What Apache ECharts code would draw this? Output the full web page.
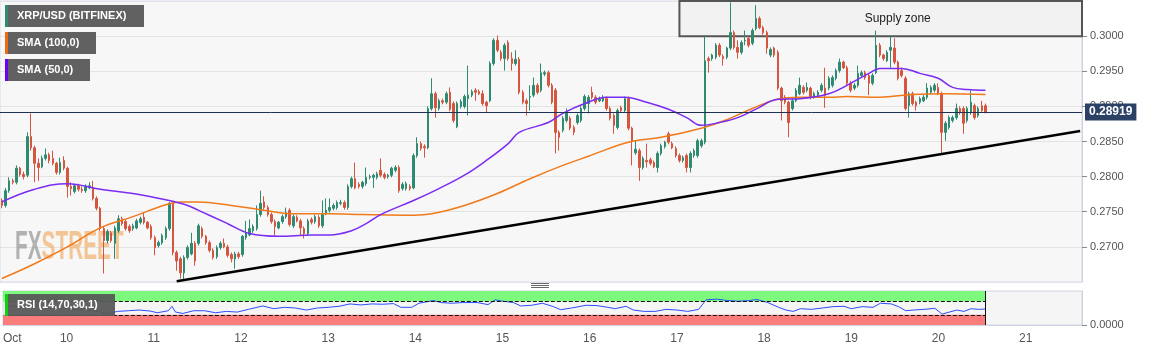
<!DOCTYPE html>
<html>
<head>
<meta charset="utf-8">
<title>XRP/USD</title>
<script src="https://cdn.jsdelivr.net/npm/echarts@6/dist/echarts.min.js"></script>
<style>
  html, body { margin: 0; padding: 0; background: #fff; }
  #chart { width: 1153px; height: 351px; }
</style>
</head>
<body>
<div id="chart"></div>
<script>
// hourly slots, first one is Oct 9 07:00
const startDay = 9;
const startHour = 7;
const slotCount = 297;

// [open, close, low, high]
const candles = [
  [0.2766,0.2759,0.2755,0.2769],[0.2759,0.2780,0.2756,0.2784],[0.2780,0.2794,0.2777,0.2799],[0.2794,0.2792,0.2789,0.2797],
  [0.2792,0.2812,0.2789,0.2816],[0.2812,0.2803,0.2800,0.2814],[0.2803,0.2800,0.2796,0.2807],[0.2802,0.2857,0.2799,0.2863],
  [0.2857,0.2841,0.2837,0.2890],[0.2841,0.2819,0.2792,0.2844],[0.2819,0.2813,0.2794,0.2826],[0.2814,0.2826,0.2812,0.2830],
  [0.2826,0.2831,0.2823,0.2840],[0.2831,0.2823,0.2819,0.2834],[0.2826,0.2819,0.2816,0.2837],[0.2819,0.2806,0.2803,0.2821],
  [0.2806,0.2820,0.2803,0.2827],[0.2823,0.2812,0.2809,0.2829],[0.2812,0.2786,0.2770,0.2814],[0.2786,0.2783,0.2773,0.2792],
  [0.2779,0.2787,0.2776,0.2790],[0.2787,0.2782,0.2779,0.2790],[0.2782,0.2780,0.2777,0.2786],[0.2780,0.2786,0.2777,0.2789],
  [0.2784,0.2787,0.2782,0.2792],[0.2784,0.2769,0.2766,0.2794],[0.2769,0.2755,0.2752,0.2772],[0.2755,0.2726,0.2723,0.2757],
  [0.2726,0.2709,0.2662,0.2729],[0.2709,0.2722,0.2705,0.2725],[0.2720,0.2709,0.2706,0.2723],[0.2705,0.2727,0.2683,0.2730],
  [0.2723,0.2740,0.2720,0.2745],[0.2740,0.2733,0.2730,0.2743],[0.2736,0.2726,0.2723,0.2739],[0.2729,0.2723,0.2720,0.2732],
  [0.2726,0.2730,0.2723,0.2733],[0.2727,0.2737,0.2725,0.2740],[0.2735,0.2740,0.2732,0.2743],[0.2742,0.2735,0.2732,0.2749],
  [0.2735,0.2727,0.2725,0.2737],[0.2729,0.2713,0.2710,0.2732],[0.2713,0.2699,0.2688,0.2716],[0.2702,0.2706,0.2699,0.2709],
  [0.2706,0.2716,0.2703,0.2719],[0.2713,0.2726,0.2710,0.2729],[0.2726,0.2762,0.2723,0.2764],[0.2762,0.2692,0.2688,0.2764],
  [0.2692,0.2680,0.2666,0.2695],[0.2683,0.2663,0.2655,0.2686],[0.2663,0.2685,0.2652,0.2688],[0.2685,0.2699,0.2682,0.2702],
  [0.2690,0.2705,0.2688,0.2720],[0.2705,0.2680,0.2673,0.2708],[0.2705,0.2730,0.2702,0.2733],[0.2726,0.2715,0.2712,0.2729],
  [0.2715,0.2706,0.2703,0.2717],[0.2706,0.2695,0.2692,0.2709],[0.2695,0.2685,0.2682,0.2698],[0.2686,0.2699,0.2683,0.2702],
  [0.2699,0.2705,0.2696,0.2708],[0.2705,0.2700,0.2698,0.2712],[0.2700,0.2688,0.2685,0.2703],[0.2689,0.2683,0.2678,0.2692],
  [0.2683,0.2690,0.2669,0.2693],[0.2690,0.2686,0.2683,0.2693],[0.2689,0.2715,0.2686,0.2717],[0.2713,0.2720,0.2710,0.2737],
  [0.2717,0.2726,0.2715,0.2739],[0.2723,0.2729,0.2720,0.2732],[0.2726,0.2746,0.2723,0.2759],[0.2746,0.2762,0.2743,0.2780],
  [0.2764,0.2756,0.2753,0.2772],[0.2756,0.2746,0.2743,0.2759],[0.2746,0.2736,0.2733,0.2749],[0.2736,0.2729,0.2716,0.2739],
  [0.2727,0.2735,0.2725,0.2737],[0.2736,0.2743,0.2733,0.2746],[0.2743,0.2749,0.2740,0.2756],[0.2752,0.2732,0.2729,0.2755],
  [0.2730,0.2743,0.2727,0.2746],[0.2742,0.2737,0.2735,0.2745],[0.2737,0.2727,0.2716,0.2740],[0.2726,0.2719,0.2712,0.2729],
  [0.2719,0.2737,0.2716,0.2740],[0.2739,0.2735,0.2732,0.2742],[0.2736,0.2743,0.2733,0.2746],[0.2742,0.2730,0.2727,0.2745],
  [0.2730,0.2746,0.2727,0.2766],[0.2747,0.2752,0.2745,0.2769],[0.2752,0.2756,0.2749,0.2769],[0.2755,0.2759,0.2752,0.2762],
  [0.2756,0.2763,0.2753,0.2766],[0.2762,0.2763,0.2759,0.2767],[0.2763,0.2756,0.2753,0.2766],[0.2756,0.2786,0.2753,0.2789],
  [0.2786,0.2797,0.2783,0.2800],[0.2797,0.2784,0.2782,0.2820],[0.2789,0.2786,0.2783,0.2792],[0.2786,0.2792,0.2783,0.2794],
  [0.2790,0.2799,0.2787,0.2813],[0.2799,0.2800,0.2796,0.2803],[0.2799,0.2802,0.2784,0.2804],[0.2799,0.2804,0.2796,0.2807],
  [0.2809,0.2802,0.2799,0.2826],[0.2803,0.2799,0.2796,0.2806],[0.2800,0.2802,0.2797,0.2804],[0.2802,0.2812,0.2799,0.2814],
  [0.2809,0.2813,0.2806,0.2816],[0.2813,0.2780,0.2777,0.2816],[0.2783,0.2789,0.2780,0.2792],[0.2783,0.2790,0.2780,0.2793],
  [0.2786,0.2783,0.2780,0.2789],[0.2784,0.2830,0.2782,0.2833],[0.2830,0.2847,0.2827,0.2856],[0.2847,0.2840,0.2837,0.2850],
  [0.2843,0.2841,0.2827,0.2846],[0.2841,0.2897,0.2839,0.2900],[0.2897,0.2918,0.2894,0.2940],[0.2918,0.2898,0.2884,0.2921],
  [0.2897,0.2908,0.2894,0.2911],[0.2908,0.2906,0.2903,0.2911],[0.2906,0.2918,0.2903,0.2921],[0.2920,0.2896,0.2893,0.2927],
  [0.2904,0.2880,0.2877,0.2907],[0.2871,0.2904,0.2869,0.2907],[0.2900,0.2907,0.2897,0.2910],[0.2900,0.2914,0.2897,0.2917],
  [0.2911,0.2916,0.2887,0.2958],[0.2916,0.2921,0.2913,0.2924],[0.2923,0.2920,0.2908,0.2926],[0.2921,0.2918,0.2916,0.2924],
  [0.2918,0.2904,0.2901,0.2923],[0.2906,0.2901,0.2891,0.2908],[0.2908,0.2961,0.2906,0.2964],[0.2961,0.2994,0.2958,0.2997],
  [0.2994,0.2980,0.2977,0.3001],[0.2977,0.2968,0.2965,0.2980],[0.2968,0.2987,0.2951,0.2990],[0.2991,0.2968,0.2965,0.2994],
  [0.2968,0.2961,0.2951,0.2977],[0.2961,0.2967,0.2958,0.2980],[0.2967,0.2920,0.2917,0.2970],[0.2920,0.2906,0.2903,0.2923],
  [0.2908,0.2904,0.2887,0.2911],[0.2913,0.2914,0.2894,0.2930],[0.2916,0.2930,0.2913,0.2941],[0.2930,0.2920,0.2917,0.2933],
  [0.2923,0.2948,0.2920,0.2961],[0.2946,0.2948,0.2943,0.2951],[0.2948,0.2930,0.2927,0.2951],[0.2930,0.2906,0.2903,0.2933],
  [0.2923,0.2863,0.2833,0.2926],[0.2863,0.2856,0.2837,0.2866],[0.2866,0.2883,0.2863,0.2886],[0.2880,0.2891,0.2877,0.2897],
  [0.2883,0.2869,0.2866,0.2886],[0.2870,0.2863,0.2859,0.2873],[0.2877,0.2887,0.2874,0.2890],[0.2880,0.2897,0.2877,0.2900],
  [0.2897,0.2914,0.2894,0.2917],[0.2904,0.2913,0.2890,0.2916],[0.2920,0.2913,0.2910,0.2928],[0.2913,0.2906,0.2903,0.2916],
  [0.2908,0.2911,0.2906,0.2914],[0.2908,0.2913,0.2906,0.2916],[0.2911,0.2897,0.2894,0.2914],[0.2897,0.2883,0.2880,0.2900],
  [0.2887,0.2873,0.2861,0.2890],[0.2870,0.2894,0.2867,0.2897],[0.2898,0.2894,0.2891,0.2901],[0.2894,0.2911,0.2891,0.2914],
  [0.2911,0.2869,0.2866,0.2914],[0.2869,0.2851,0.2816,0.2871],[0.2834,0.2839,0.2831,0.2851],[0.2837,0.2813,0.2794,0.2840],
  [0.2813,0.2826,0.2810,0.2829],[0.2823,0.2821,0.2813,0.2847],[0.2824,0.2819,0.2816,0.2827],[0.2820,0.2814,0.2812,0.2823],
  [0.2813,0.2833,0.2806,0.2836],[0.2833,0.2844,0.2830,0.2847],[0.2843,0.2849,0.2840,0.2851],[0.2861,0.2849,0.2846,0.2864],
  [0.2847,0.2841,0.2839,0.2850],[0.2840,0.2830,0.2827,0.2843],[0.2830,0.2823,0.2820,0.2833],[0.2823,0.2827,0.2820,0.2830],
  [0.2830,0.2813,0.2806,0.2833],[0.2813,0.2833,0.2806,0.2836],[0.2830,0.2837,0.2827,0.2840],[0.2830,0.2851,0.2827,0.2854],
  [0.2844,0.2851,0.2841,0.2854],[0.2849,0.2965,0.2846,0.3001],[0.2968,0.2965,0.2948,0.2971],[0.2968,0.2973,0.2965,0.2975],
  [0.2970,0.2987,0.2967,0.2990],[0.2987,0.2973,0.2970,0.2990],[0.2971,0.2968,0.2958,0.2974],[0.2970,0.2983,0.2967,0.2985],
  [0.2983,0.3005,0.2980,0.3048],[0.3005,0.2984,0.2981,0.3008],[0.2984,0.2977,0.2968,0.2994],[0.2977,0.2991,0.2974,0.2994],
  [0.2993,0.2994,0.2987,0.3008],[0.2997,0.2987,0.2984,0.3000],[0.2990,0.3008,0.2987,0.3011],[0.3011,0.3025,0.3008,0.3044],
  [0.3025,0.3012,0.3010,0.3028],[0.3012,0.3005,0.3002,0.3015],[0.3005,0.2983,0.2975,0.3008],[0.2973,0.2981,0.2970,0.2984],
  [0.2983,0.2973,0.2970,0.2985],[0.2977,0.2926,0.2923,0.2980],[0.2926,0.2908,0.2880,0.2928],[0.2913,0.2906,0.2903,0.2916],
  [0.2906,0.2877,0.2856,0.2908],[0.2897,0.2908,0.2894,0.2911],[0.2908,0.2923,0.2906,0.2926],[0.2918,0.2930,0.2916,0.2941],
  [0.2927,0.2920,0.2917,0.2930],[0.2923,0.2927,0.2920,0.2934],[0.2926,0.2913,0.2910,0.2928],[0.2914,0.2918,0.2911,0.2921],
  [0.2916,0.2920,0.2913,0.2923],[0.2923,0.2930,0.2920,0.2933],[0.2926,0.2916,0.2898,0.2955],[0.2926,0.2940,0.2923,0.2943],
  [0.2930,0.2941,0.2927,0.2944],[0.2940,0.2951,0.2937,0.2954],[0.2951,0.2963,0.2948,0.2968],[0.2963,0.2955,0.2953,0.2965],
  [0.2955,0.2933,0.2930,0.2958],[0.2933,0.2923,0.2920,0.2936],[0.2926,0.2930,0.2923,0.2933],[0.2930,0.2947,0.2927,0.2958],
  [0.2944,0.2948,0.2941,0.2951],[0.2948,0.2941,0.2938,0.2951],[0.2944,0.2933,0.2916,0.2947],[0.2933,0.2944,0.2930,0.2947],
  [0.2948,0.2987,0.2946,0.3008],[0.2987,0.2973,0.2970,0.2990],[0.2973,0.2968,0.2965,0.2975],[0.2965,0.2977,0.2963,0.2980],
  [0.2980,0.2984,0.2955,0.3001],[0.2983,0.2963,0.2960,0.2997],[0.2963,0.2940,0.2937,0.2965],[0.2951,0.2944,0.2941,0.2955],
  [0.2940,0.2897,0.2894,0.2943],[0.2901,0.2918,0.2884,0.2921],[0.2918,0.2904,0.2901,0.2921],[0.2906,0.2901,0.2894,0.2908],
  [0.2906,0.2911,0.2903,0.2914],[0.2908,0.2913,0.2906,0.2916],[0.2913,0.2926,0.2910,0.2933],[0.2920,0.2927,0.2917,0.2930],
  [0.2923,0.2930,0.2920,0.2933],[0.2927,0.2918,0.2916,0.2933],[0.2918,0.2863,0.2833,0.2921],[0.2863,0.2876,0.2851,0.2879],
  [0.2870,0.2884,0.2867,0.2887],[0.2880,0.2884,0.2877,0.2887],[0.2884,0.2897,0.2881,0.2904],[0.2897,0.2891,0.2888,0.2900],
  [0.2897,0.2876,0.2861,0.2900],[0.2880,0.2897,0.2877,0.2900],[0.2891,0.2906,0.2888,0.2923],[0.2901,0.2884,0.2881,0.2904],
  [0.2887,0.2897,0.2884,0.2900],[0.2901,0.2894,0.2891,0.2908],[0.2901,0.28919,0.2890,0.2904]
];
const lastPrice = 0.28919;

// moving averages: [slot, value]
const sma100 = [
  [0,0.2655],[9,0.2676],[18,0.2700],[27,0.2727],[36,0.2743],[45,0.2760],[49,0.2764],[54,0.2764],
  [63,0.2759],[71,0.2753],[80,0.2747],[90,0.2747],[99,0.2746],[113,0.2745],[118,0.2747],[127,0.2759],
  [136,0.2776],[145,0.2797],[154,0.2816],[161,0.2829],[172,0.2849],[181,0.2856],[192,0.2869],[199,0.2881],
  [206,0.2897],[213,0.2910],[219,0.2913],[227,0.2913],[232,0.2914],[241,0.2913],[250,0.2917],[259,0.2918],[270,0.2917]
];
const sma50 = [
  [0,0.2764],[9,0.2782],[18,0.2790],[27,0.2782],[36,0.2776],[45,0.2767],[51,0.2759],[54,0.2752],
  [62,0.2733],[68,0.2719],[76,0.2715],[85,0.2717],[90,0.2717],[96,0.2723],[100,0.2733],[104,0.2746],
  [113,0.2766],[120,0.2783],[127,0.2802],[133,0.2823],[139,0.2847],[142,0.2863],[150,0.2877],[154,0.2890],
  [160,0.2904],[166,0.2913],[171,0.2913],[177,0.2906],[183,0.2896],[188,0.2884],[192,0.2873],[197,0.2877],
  [202,0.2884],[207,0.2896],[213,0.2910],[219,0.2911],[227,0.2918],[232,0.2930],[238,0.2947],[241,0.2954],
  [247,0.2954],[252,0.2947],[257,0.2940],[261,0.2927],[265,0.2924],[270,0.2923]
];
const trendLine = [[48, 0.2651], [296, 0.2865]];
const supplyZone = { from: 186, top: 0.3050, bottom: 0.3000 };

const rsi = [
  [0,58],[3,55],[6,52],[8,62],[10,52],[13,54],[16,50],[19,45],[22,46],[25,42],[28,33],[31,40],
  [34,42],[37,44],[40,41],[42,36],[45,42],[46,55],[47,38],[49,34],[52,42],[55,42],[58,36],[61,40],
  [64,38],[67,46],[71,56],[74,48],[77,52],[80,50],[83,44],[86,50],[89,52],[92,55],[95,62],[98,59],
  [101,62],[104,61],[107,63],[109,52],[112,52],[114,64],[118,72],[120,66],[123,64],[126,66],[130,66],
  [133,60],[135,74],[137,70],[140,66],[142,56],[145,58],[148,64],[151,54],[153,45],[156,50],[160,58],
  [163,57],[166,52],[168,48],[171,55],[173,44],[176,40],[179,40],[182,46],[185,44],[188,40],[191,46],
  [193,74],[196,76],[199,72],[202,70],[205,72],[207,75],[210,66],[213,52],[215,44],[217,40],[219,48],
  [222,46],[225,50],[228,54],[231,55],[233,48],[236,54],[239,52],[241,64],[244,62],[246,54],[248,42],
  [250,44],[253,46],[256,49],[258,32],[260,38],[262,44],[264,40],[266,48],[268,46],[270,47]
];
const rsiLast = 270;

const slots = [];
for (let i = 0; i < slotCount; i++) {
  const h = startHour + i;
  slots.push({ day: startDay + Math.floor(h / 24), hour: h % 24 });
}
const categories = slots.map(s => 'Oct ' + s.day + ' ' + String(s.hour).padStart(2, '0') + ':00');
const isDayStart = (idx) => idx === 0 || slots[idx].hour === 0;

function dayLabel(value) {
  if (value === categories[0]) return '{o|Oct}';
  return value.split(' ')[1];
}

const up = '#2e8a70';
const down = '#d6553f';

function tag(x, y, w, text, stripe) {
  return {
    type: 'group', x: x, y: y, z: 20,
    children: [
      { type: 'rect', shape: { x: 0, y: 0, width: w, height: 22 }, style: { fill: 'rgba(88,88,88,0.95)' }, z: 20 },
      { type: 'rect', shape: { x: 0, y: 0, width: 3, height: 22 }, style: { fill: stripe }, z: 21 },
      { type: 'text', x: 12, y: 11, z: 21, style: { text: text, fill: '#fff', font: 'bold 11px Arial', verticalAlign: 'middle' } }
    ]
  };
}

const chart = echarts.init(document.getElementById('chart'));

const option = {
  animation: false,
  backgroundColor: '#fff',
  grid: [
    { left: 0, right: 71, top: 1, height: 281, show: true, backgroundColor: '#f7f7f7', borderColor: '#d4dbea' },
    { left: 0, right: 71, top: 291, height: 34, show: true, backgroundColor: '#f5f5f5', borderColor: '#cfd5e2' }
  ],
  xAxis: [
    {
      type: 'category', gridIndex: 0, data: categories, boundaryGap: true,
      axisLine: { show: false }, axisTick: { show: false }, axisLabel: { show: false }
    },
    {
      type: 'category', gridIndex: 1, data: categories, boundaryGap: true,
      axisLine: { lineStyle: { color: '#cfd5e2' } },
      axisTick: { interval: isDayStart, alignWithLabel: true, length: 4, lineStyle: { color: '#888' } },
      axisLabel: {
        interval: isDayStart, formatter: dayLabel, color: '#555', fontSize: 12, margin: 8,
        fontFamily: 'Arial',
        rich: { o: { padding: [0, 0, 0, 15], color: '#555', fontSize: 12, fontFamily: 'Arial' } }
      }
    }
  ],
  yAxis: [
    {
      type: 'value', gridIndex: 0, position: 'right',
      min: 0.265, max: 0.305, interval: 0.005,
      axisLine: { show: true, lineStyle: { color: '#c9d1e3' } },
      axisTick: { show: true, length: 5, lineStyle: { color: '#888' } },
      axisLabel: {
        color: '#555', fontSize: 11, fontFamily: 'Arial', margin: 8,
        showMinLabel: false, showMaxLabel: false,
        formatter: v => v.toFixed(4)
      },
      splitLine: { lineStyle: { color: '#e3e3e3' } }
    },
    {
      type: 'value', gridIndex: 1, position: 'right',
      min: 0, max: 100, interval: 100,
      axisLine: { show: true, lineStyle: { color: '#c9d1e3' } },
      axisTick: { show: true, length: 5, lineStyle: { color: '#888' } },
      axisLabel: { color: '#555', fontSize: 11, fontFamily: 'Arial', margin: 8, showMaxLabel: false, formatter: v => v.toFixed(4) },
      splitLine: { show: false }
    }
  ],
  graphic: [
    {
      type: 'text', x: 15, y: 248, scaleX: 0.52, z: 1,
      style: {
        text: '{a|FX}{b|STREET}', verticalAlign: 'middle', opacity: 0.75,
        rich: {
          a: { fill: '#9a9a9a', fontSize: 40, fontWeight: 'bold', fontFamily: 'Arial' },
          b: { fill: '#f2b474', fontSize: 40, fontWeight: 'bold', fontFamily: 'Arial' }
        }
      }
    },
    tag(5, 5, 139, 'XRP/USD (BITFINEX)', up),
    tag(5, 32, 91, 'SMA (100,0)', '#ee6a10'),
    tag(5, 59, 85, 'SMA (50,0)', '#6a00f4'),
    tag(5, 294, 110, 'RSI (14,70,30,1)', '#10d010'),
    {
      type: 'group', x: 531, y: 283, z: 20,
      children: [0, 2, 4].map(dy => ({
        type: 'line', shape: { x1: 0, y1: dy + 0.5, x2: 18, y2: dy + 0.5 }, style: { stroke: '#666', lineWidth: 1 }
      }))
    }
  ],
  series: [
    {
      name: 'XRP/USD (BITFINEX)', type: 'candlestick', xAxisIndex: 0, yAxisIndex: 0,
      data: candles, barWidth: 2,
      itemStyle: { color: up, color0: down, borderColor: up, borderColor0: down, borderWidth: 1 },
      markArea: {
        silent: true,
        itemStyle: { color: '#f2f2f2', borderColor: '#555', borderWidth: 2 },
        label: { show: true, position: 'inside', offset: [17, 0], color: '#222', fontSize: 12, fontFamily: 'Arial' },
        data: [[
          { name: 'Supply zone', xAxis: supplyZone.from, yAxis: supplyZone.top },
          { yAxis: supplyZone.bottom }
        ]]
      },
      markLine: {
        silent: true, symbol: ['none', 'none'], precision: 5,
        lineStyle: { color: '#1f3055', width: 1, type: 'solid' },
        label: {
          show: true, position: 'end', distance: 3,
          formatter: () => lastPrice.toFixed(5),
          backgroundColor: '#2c4166', color: '#fff', fontWeight: 'bold', fontSize: 12,
          fontFamily: 'Arial', padding: [3, 4, 2, 4]
        },
        data: [{ yAxis: lastPrice }]
      }
    },
    {
      name: 'SMA (100,0)', type: 'line', xAxisIndex: 0, yAxisIndex: 0,
      data: sma100, smooth: 0.4, showSymbol: false,
      lineStyle: { color: '#f07a1a', width: 1.5 }
    },
    {
      name: 'SMA (50,0)', type: 'line', xAxisIndex: 0, yAxisIndex: 0,
      data: sma50, smooth: 0.4, showSymbol: false,
      lineStyle: { color: '#7b2cf2', width: 1.5 }
    },
    {
      name: 'trend', type: 'line', xAxisIndex: 0, yAxisIndex: 0,
      data: trendLine, showSymbol: false, z: 4,
      lineStyle: { color: '#000', width: 2.5 }
    },
    {
      name: 'RSI', type: 'line', xAxisIndex: 1, yAxisIndex: 1,
      data: rsi, showSymbol: false,
      lineStyle: { color: '#2b4cff', width: 1 },
      markArea: {
        silent: true,
        data: [
          [{ yAxis: 70, itemStyle: { color: '#7dfa7d' } }, { xAxis: rsiLast, yAxis: 100 }],
          [{ yAxis: 0, itemStyle: { color: '#fa7c7c' } }, { xAxis: rsiLast, yAxis: 30 }]
        ]
      },
      markLine: {
        silent: true, symbol: ['none', 'none'], label: { show: false },
        lineStyle: { color: '#111', width: 1, type: 'dashed' },
        data: [
          [{ coord: [0, 70] }, { coord: [rsiLast, 70] }],
          [{ coord: [0, 30] }, { coord: [rsiLast, 30] }],
          [{ coord: [rsiLast, 0], lineStyle: { type: 'solid' } }, { coord: [rsiLast, 100] }]
        ]
      }
    }
  ]
};

chart.setOption(option);
</script>
</body>
</html>
